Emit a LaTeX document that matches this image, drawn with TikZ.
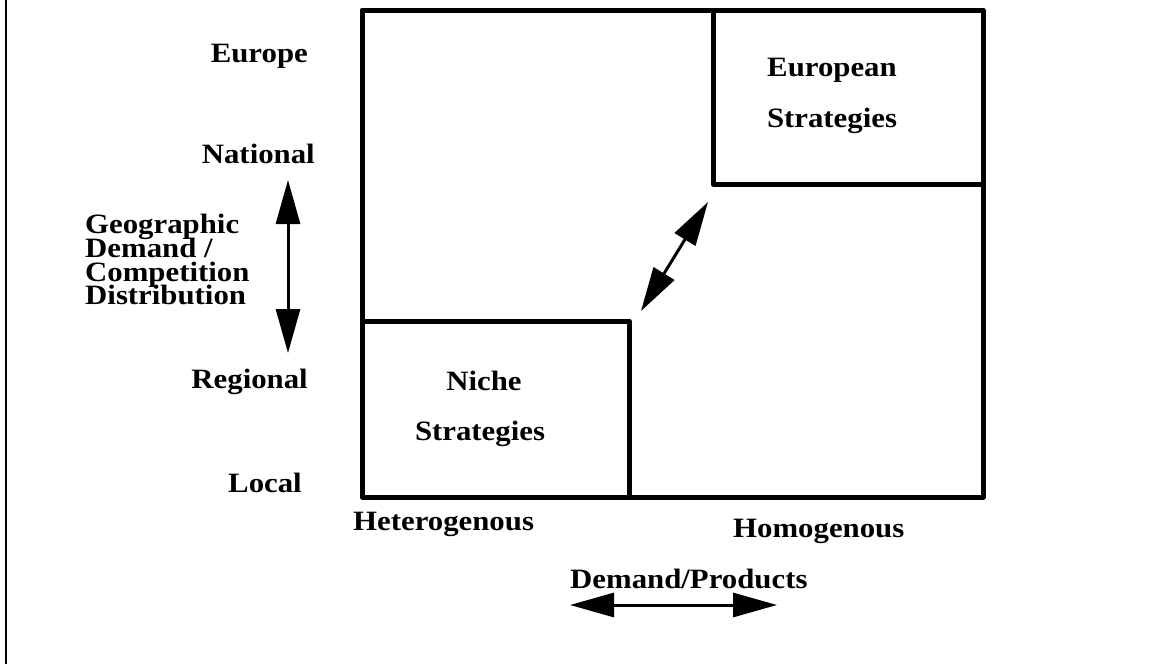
\documentclass[tikz,border=0pt]{standalone}
\usepackage{fontspec}
\setmainfont{Liberation Serif}[FakeStretch=1.1]
\usetikzlibrary{arrows.meta}
\begin{document}
\begin{tikzpicture}[x=1pt,y=-1pt,
  lbl/.style={font=\bfseries\fontsize{28}{24}\selectfont, inner sep=0pt},
  frame/.style={line width=5pt, line join=round},
  bigtip/.tip={Triangle[length=44pt,width=24pt]},
  twoway/.style={line width=3pt, bigtip-bigtip}]
\useasboundingbox (0,0) rectangle (1163,664);

% margin rule on the left
\draw[line width=2.5pt] (6,0) -- (6,664);

% strategy matrix
\draw[frame] (362,10) rectangle (983,497);
\draw[frame] (713,10) -- (713,184) -- (983,184);
\draw[frame] (362,321) -- (629,321) -- (629,497);

% vertical axis labels
\node[lbl, anchor=base east] (europe)   at (308,62)  {Europe};
\node[lbl, anchor=base east] (national) at (315,163) {National};
\node[lbl, anchor=base east] (regional) at (308,388) {Regional};
\node[lbl, anchor=base east] (local)    at (302,492) {Local};

\node[lbl, anchor=base west] (geo1) at (85,233) {Geographic};
\node[lbl, anchor=base west] (geo2) at (85,257) {Demand /};
\node[lbl, anchor=base west] (geo3) at (85,281) {Competition};
\node[lbl, anchor=base west] (geo4) at (85,304) {Distribution};

% horizontal axis labels
\node[lbl, anchor=base west] (hetero)  at (353,530) {Heterogenous};
\node[lbl, anchor=base west] (homo)    at (733,537) {Homogenous};
\node[lbl, anchor=base west] (demprod) at (570,588) {Demand/Products};

% box contents
\node[lbl, anchor=base] (euro1)  at (832,76)  {European};
\node[lbl, anchor=base] (euro2)  at (832,127) {Strategies};
\node[lbl, anchor=base] (niche1) at (484,390) {Niche};
\node[lbl, anchor=base] (niche2) at (480,440) {Strategies};

% arrow end points
\coordinate (vtop) at (288,180);
\coordinate (vbot) at (288,353);
\coordinate (hleft) at (570,605);
\coordinate (hright) at (777,605);
\coordinate (dlow) at (641,311);
\coordinate (dhigh) at (708,202);

\draw[twoway] (vtop) -- (vbot);
\draw[twoway] (hleft) -- (hright);
\draw[twoway] (dlow) -- (dhigh);
\end{tikzpicture}
\end{document}
